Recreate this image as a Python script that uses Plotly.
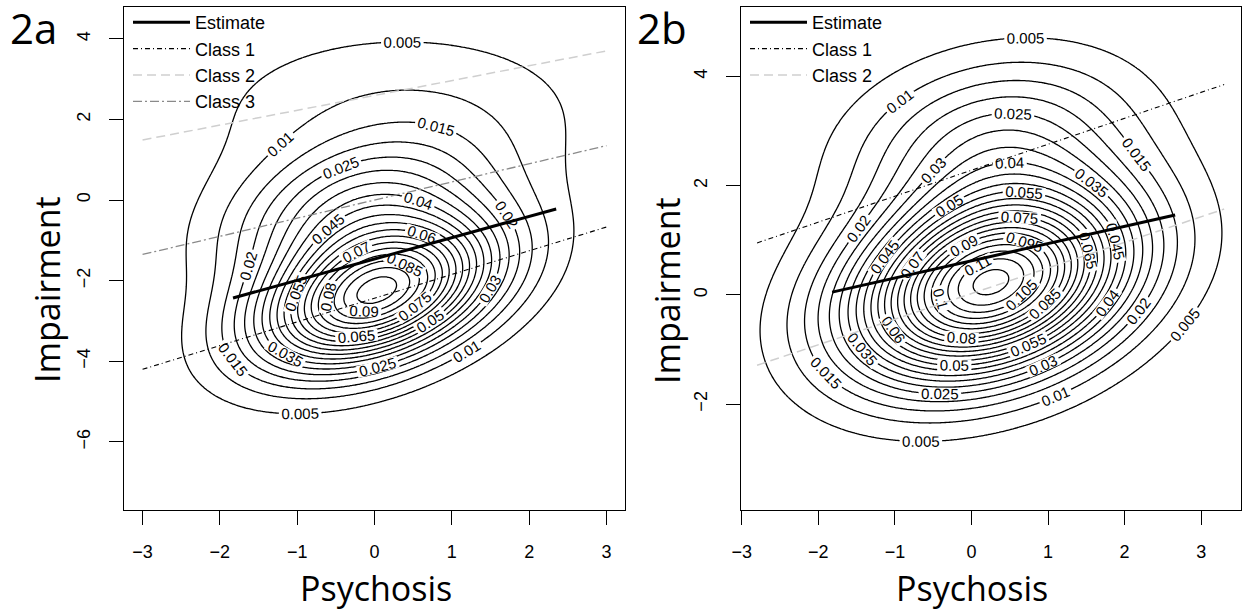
import numpy as np
import plotly.graph_objects as go

# ---------------- data ----------------
# Panel 2a : bivariate density described by a 3-component normal mixture
A_MEANS = [(0.03, -2.35), (-0.25, -0.2), (0.25, 2.3)]
A_SDS = [(1.03, 1.22), (1.1, 1.2), (1.8, 1.5)]
A_RHOS = [0.42, 0.35, 0.05]
A_WEIGHTS = [0.67, 0.24, 0.15]
A_LEVELS = (0.005, 0.095, 0.005)

# Panel 2b : 2-component normal mixture
B_MEANS = [(0.25, 0.2), (0.3, 2.8)]
B_SDS = [(1.2, 1.15), (1.2, 1.05)]
B_RHOS = [0.3, 0.2]
B_WEIGHTS = [0.96, 0.20]
B_LEVELS = (0.005, 0.115, 0.005)

# regression lines: (x0, x1), (y0, y1)
A_ESTIMATE_X = [-1.83, 2.35]
A_ESTIMATE_Y = [-2.43, -0.22]
A_CLASS1_X = [-3, 3]
A_CLASS1_Y = [-4.2, -0.67]
A_CLASS2_X = [-3, 3]
A_CLASS2_Y = [1.49, 3.7]
A_CLASS3_X = [-3, 3]
A_CLASS3_Y = [-1.35, 1.35]

B_ESTIMATE_X = [-1.82, 2.66]
B_ESTIMATE_Y = [0.05, 1.46]
B_CLASS1_X = [-2.8, 3.3]
B_CLASS1_Y = [0.95, 3.85]
B_CLASS2_X = [-2.8, 3.3]
B_CLASS2_Y = [-1.29, 1.57]

X_TICKS = [-3, -2, -1, 0, 1, 2, 3]
A_Y_TICKS = [-6, -4, -2, 0, 2, 4]
B_Y_TICKS = [-2, 0, 2, 4]

A_XRANGE = [-3.24, 3.24]
A_YRANGE = [-7.69, 4.79]
B_XRANGE = [-3.01, 3.52]
B_YRANGE = [-3.94, 5.27]


def mixture(xs, ys, means, sds, rhos, weights):
    X, Y = np.meshgrid(xs, ys)
    Z = np.zeros_like(X)
    for (mx, my), (sx, sy), r, w in zip(means, sds, rhos, weights):
        dx = (X - mx) / sx
        dy = (Y - my) / sy
        q = (dx * dx - 2 * r * dx * dy + dy * dy) / (1 - r * r)
        Z += w * np.exp(-q / 2) / (2 * np.pi * sx * sy * np.sqrt(1 - r * r))
    return Z


fig = go.Figure()

W, H = 1243, 613
TOP, BOTTOM = 7, 510          # pixel rows of the plot boxes
tickfont = dict(family="Liberation Sans, Arial", size=18, color="black")


def fx(px):
    return px / W


def fy(py):
    return 1 - py / H


def add_panel(xr, yr, means, sds, rhos, weights, levels, xa, ya):
    xs = np.linspace(xr[0], xr[1], 260)
    ys = np.linspace(yr[0], yr[1], 260)
    z = mixture(xs, ys, means, sds, rhos, weights)
    fig.add_trace(go.Contour(
        x=xs, y=ys, z=z, xaxis=xa, yaxis=ya,
        contours=dict(start=levels[0], end=levels[1] + 1e-9, size=levels[2],
                      coloring="none", showlabels=True,
                      labelfont=dict(family="Liberation Sans, Arial", size=15, color="black"),
                      labelformat=".3~g"),
        line=dict(color="black", width=1.3),
        showscale=False, showlegend=False, hoverinfo="skip"))


add_panel(A_XRANGE, A_YRANGE, A_MEANS, A_SDS, A_RHOS, A_WEIGHTS, A_LEVELS, "x", "y")
add_panel(B_XRANGE, B_YRANGE, B_MEANS, B_SDS, B_RHOS, B_WEIGHTS, B_LEVELS, "x2", "y2")

CLASS1_STYLE = dict(color="black", width=1.1, dash="5px,3px,1px,3px")
CLASS2_STYLE = dict(color="#cfcfcf", width=1.5, dash="9px,5px")
CLASS3_STYLE = dict(color="#8a8a8a", width=1.3, dash="9px,3px,2px,3px")
EST_STYLE = dict(color="black", width=3)

# panel a lines
fig.add_trace(go.Scatter(x=A_ESTIMATE_X, y=A_ESTIMATE_Y, mode="lines", line=EST_STYLE,
                         name="Estimate", legend="legend", xaxis="x", yaxis="y"))
fig.add_trace(go.Scatter(x=A_CLASS1_X, y=A_CLASS1_Y, mode="lines", line=CLASS1_STYLE,
                         name="Class 1", legend="legend", xaxis="x", yaxis="y"))
fig.add_trace(go.Scatter(x=A_CLASS2_X, y=A_CLASS2_Y, mode="lines", line=CLASS2_STYLE,
                         name="Class 2", legend="legend", xaxis="x", yaxis="y"))
fig.add_trace(go.Scatter(x=A_CLASS3_X, y=A_CLASS3_Y, mode="lines", line=CLASS3_STYLE,
                         name="Class 3", legend="legend", xaxis="x", yaxis="y"))
# panel b lines
fig.add_trace(go.Scatter(x=B_ESTIMATE_X, y=B_ESTIMATE_Y, mode="lines", line=EST_STYLE,
                         name="Estimate", legend="legend2", xaxis="x2", yaxis="y2"))
fig.add_trace(go.Scatter(x=B_CLASS1_X, y=B_CLASS1_Y, mode="lines", line=CLASS1_STYLE,
                         name="Class 1", legend="legend2", xaxis="x2", yaxis="y2"))
fig.add_trace(go.Scatter(x=B_CLASS2_X, y=B_CLASS2_Y, mode="lines", line=CLASS2_STYLE,
                         name="Class 2", legend="legend2", xaxis="x2", yaxis="y2"))

axis_common = dict(showline=True, linecolor="black", linewidth=1.3, mirror=True,
                   ticks="outside", ticklen=14, tickwidth=1.2, tickcolor="black",
                   showgrid=False, zeroline=False, tickfont=tickfont, automargin=False)

ydom = [fy(BOTTOM), fy(TOP)]
title_font = dict(family="Open Sans", size=34, color="black")
legend_font = dict(family="Liberation Sans, Arial", size=18, color="black")

fig.update_layout(
    width=W, height=H, autosize=False,
    margin=dict(l=0, r=0, t=0, b=0, pad=0),
    paper_bgcolor="white", plot_bgcolor="white",
    xaxis=dict(domain=[fx(124), fx(625)], range=A_XRANGE, tickvals=X_TICKS,
               anchor="y", ticklabelstandoff=11, **axis_common),
    yaxis=dict(domain=ydom, range=A_YRANGE, tickvals=A_Y_TICKS, anchor="x",
               tickangle=-90, ticklabelstandoff=12, **axis_common),
    xaxis2=dict(domain=[fx(741), fx(1241)], range=B_XRANGE, tickvals=X_TICKS,
                anchor="y2", ticklabelstandoff=11, **axis_common),
    yaxis2=dict(domain=ydom, range=B_YRANGE, tickvals=B_Y_TICKS, anchor="x2",
                tickangle=-90, ticklabelstandoff=12, **axis_common),
    legend=dict(x=fx(128), y=fy(4), xanchor="left", yanchor="top", bgcolor="rgba(0,0,0,0)",
                font=legend_font, itemwidth=57, tracegroupgap=0),
    legend2=dict(x=fx(745), y=fy(4), xanchor="left", yanchor="top", bgcolor="rgba(0,0,0,0)",
                 font=legend_font, itemwidth=57, tracegroupgap=0),
    annotations=[
        dict(text="2a", x=fx(33), y=fy(27), xref="paper", yref="paper",
             xanchor="center", yanchor="middle", showarrow=False,
             font=dict(family="Open Sans", size=42, color="black")),
        dict(text="2b", x=fx(662), y=fy(27), xref="paper", yref="paper",
             xanchor="center", yanchor="middle", showarrow=False,
             font=dict(family="Open Sans", size=42, color="black")),
        dict(text="Psychosis", x=fx(376), y=fy(588), xref="paper", yref="paper",
             xanchor="center", yanchor="middle", showarrow=False, font=title_font),
        dict(text="Psychosis", x=fx(972), y=fy(588), xref="paper", yref="paper",
             xanchor="center", yanchor="middle", showarrow=False, font=title_font),
        dict(text="Impairment", x=fx(47), y=fy(290), xref="paper", yref="paper",
             xanchor="center", yanchor="middle", textangle=-90, showarrow=False, font=title_font),
        dict(text="Impairment", x=fx(667), y=fy(290), xref="paper", yref="paper",
             xanchor="center", yanchor="middle", textangle=-90, showarrow=False, font=title_font),
    ],
)

fig.write_html("out.html", config={"displayModeBar": False},
               post_script="document.body.style.margin='0';document.body.style.overflow='hidden';")
